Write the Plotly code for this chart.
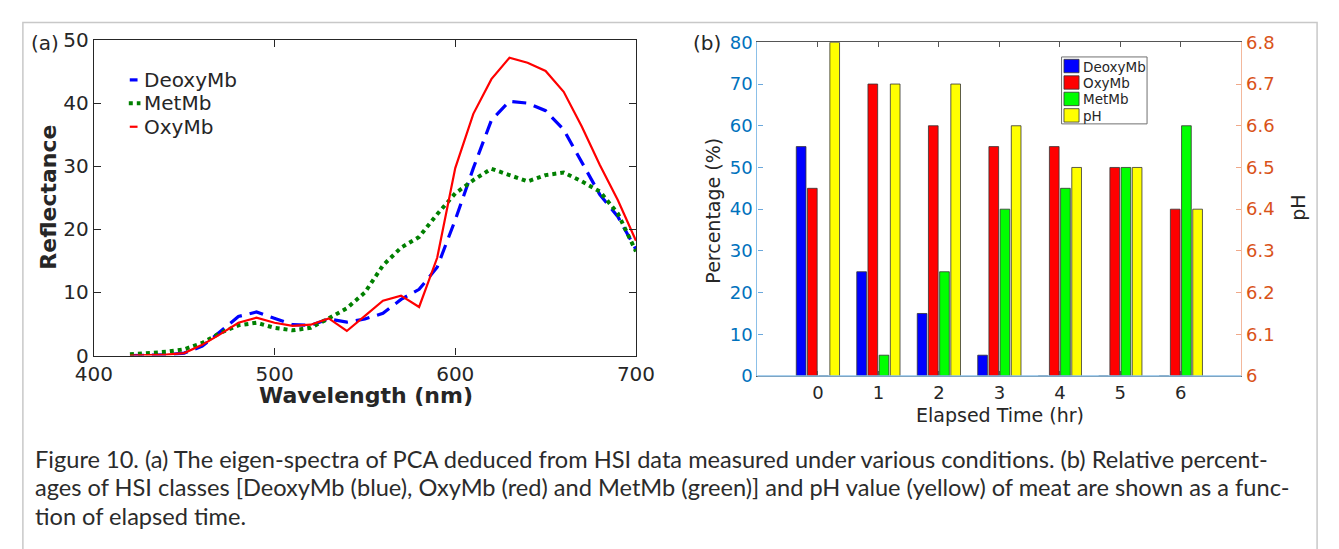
import plotly.graph_objects as go

W, H = 1339, 549

# ---------------- data: panel (a) ----------------
wavelength = [420, 430, 440, 450, 460, 470, 480, 490, 500, 510, 520, 530, 540, 550,
              560, 570, 580, 590, 600, 610, 620, 630, 640, 650, 660, 670, 680, 690, 700]
deoxymb = [0.0, 0.05, 0.1, 0.4, 1.5, 3.8, 6.2, 6.9, 5.9, 4.9, 4.8, 5.8, 5.3, 5.8,
           6.7, 8.9, 10.5, 14.0, 21.5, 29.7, 37.3, 40.3, 40.0, 38.8, 35.8, 30.7, 25.5, 22.0, 16.8]
metmb = [0.2, 0.4, 0.6, 1.0, 2.0, 3.6, 4.8, 5.2, 4.4, 4.0, 4.4, 5.9, 7.5, 10.0,
         14.3, 17.1, 18.8, 22.4, 25.7, 27.8, 29.6, 28.6, 27.6, 28.6, 29.0, 27.6, 26.0, 22.5, 16.5]
oxymb = [0.0, 0.1, 0.15, 0.4, 1.7, 3.4, 5.2, 6.0, 5.2, 4.7, 4.9, 5.9, 3.9, 6.3,
         8.7, 9.5, 7.7, 15.5, 29.7, 38.3, 43.8, 47.2, 46.4, 45.1, 41.8, 36.3, 30.2, 24.6, 18.2]

# ---------------- data: panel (b) ----------------
elapsed = [0, 1, 2, 3, 4, 5, 6]
pct_deoxy = [55, 25, 15, 5, 0, 0, 0]
pct_oxy = [45, 70, 60, 55, 55, 50, 40]
pct_met = [0, 5, 25, 40, 45, 50, 60]
ph_value = [6.8, 6.7, 6.7, 6.6, 6.5, 6.5, 6.4]

legend_a_names = ["DeoxyMb", "MetMb", "OxyMb"]
legend_b_names = ["DeoxyMb", "OxyMb", "MetMb", "pH"]

caption_lines = [
    "Figure 10. (a) The eigen-spectra of PCA deduced from HSI data measured under various conditions. (b) Relative percent-",
    "ages of HSI classes [DeoxyMb (blue), OxyMb (red) and MetMb (green)] and pH value (yellow) of meat are shown as a func-",
    "tion of elapsed time.",
]

FONT = "DejaVu Sans"
TXT = "#262626"
BLUE_AX = "#0072BD"
ORANGE_AX = "#D95319"

C_DEOXY = "#0000FF"
C_MET_LINE = "#008000"
C_OXY = "#FF0000"
C_MET_BAR = "#00FF00"
C_PH = "#FFFF00"

def px(x):
    return x / W

def py(y):
    return 1 - y / H

line_styles = {
    "DeoxyMb": dict(color=C_DEOXY, width=3.2, dash="14px,8px"),
    "MetMb": dict(color=C_MET_LINE, width=4, dash="dot"),
    "OxyMb": dict(color=C_OXY, width=2.2),
}

fig = go.Figure()

# panel (a) lines
for name, ys in [("DeoxyMb", deoxymb), ("MetMb", metmb), ("OxyMb", oxymb)]:
    fig.add_trace(go.Scatter(x=wavelength, y=ys, name=name, mode="lines",
                             line=line_styles[name], xaxis="x", yaxis="y",
                             showlegend=False))

# panel (b) bars
bw = 0.16
slot = 0.185
outline = dict(color="#333333", width=0.8)
bar_specs = [("DeoxyMb", pct_deoxy, C_DEOXY, "y2"),
             ("OxyMb", pct_oxy, C_OXY, "y2"),
             ("MetMb", pct_met, C_MET_BAR, "y2"),
             ("pH", ph_value, C_PH, "y3")]
for i, (name, vals, col, yax) in enumerate(bar_specs):
    center = (i - 1.5) * slot
    fig.add_trace(go.Bar(x=elapsed, y=vals, name=name, width=bw, offset=center - bw / 2,
                         marker=dict(color=col, line=outline), xaxis="x2", yaxis=yax,
                         showlegend=False))

a_x0, a_x1, a_yt, a_yb = 77, 635, 29.3, 359.3
b_x0, b_x1, b_yt, b_yb = 760, 1258, 31.7, 380.7

fig.update_layout(
    width=W, height=H,
    margin=dict(l=0, r=0, t=0, b=0),
    paper_bgcolor="white", plot_bgcolor="white",
    font=dict(family=FONT, color=TXT),
    barmode="overlay",
    showlegend=False,
    xaxis=dict(domain=[px(a_x0), px(a_x1)], anchor="y", range=[400, 700],
               tickvals=[400, 500, 600, 700], ticks="inside", ticklen=7,
               tickcolor="#262626", showline=True, linecolor="#262626", linewidth=1.2,
               mirror="ticks", showgrid=False, zeroline=False,
               tickfont=dict(size=20, color=TXT, family=FONT)),
    yaxis=dict(domain=[py(a_yb), py(a_yt)], anchor="x", range=[0, 50],
               tickvals=[0, 10, 20, 30, 40, 50], ticks="inside", ticklen=7,
               tickcolor="#262626", showline=True, linecolor="#262626", linewidth=1.2,
               mirror="ticks", showgrid=False, zeroline=False,
               tickfont=dict(size=20, color=TXT, family=FONT)),
    xaxis2=dict(domain=[px(b_x0), px(b_x1)], anchor="y2", range=[-1, 7],
                tickvals=elapsed, ticks="inside", ticklen=5, tickcolor="#555555",
                showline=True, linecolor="#555555", linewidth=1, mirror="ticks",
                showgrid=False, zeroline=False,
                tickfont=dict(size=18, color=TXT, family=FONT)),
    yaxis2=dict(domain=[py(b_yb), py(b_yt)], anchor="x2", range=[0, 80],
                tickvals=[0, 10, 20, 30, 40, 50, 60, 70, 80], ticks="inside", ticklen=5,
                tickcolor="#6aa8dc", showline=True, linecolor="#8cc0e8", linewidth=1.2,
                showgrid=False, zeroline=False,
                tickfont=dict(size=18, color=BLUE_AX, family=FONT)),
    yaxis3=dict(domain=[py(b_yb), py(b_yt)], anchor="x2", overlaying="y2", side="right",
                range=[6, 6.8], tickvals=[6, 6.1, 6.2, 6.3, 6.4, 6.5, 6.6, 6.7, 6.8],
                ticktext=["6", "6.1", "6.2", "6.3", "6.4", "6.5", "6.6", "6.7", "6.8"],
                ticks="inside", ticklen=5, tickcolor="#f0a888", showline=True,
                linecolor="#f3b89c", linewidth=1.2, showgrid=False, zeroline=False,
                tickfont=dict(size=18, color=ORANGE_AX, family=FONT)),
)

annotations = [
    dict(text="(a)", x=px(10), y=py(32), xanchor="left", yanchor="middle",
         font=dict(size=20, color=TXT, family=FONT)),
    dict(text="(b)", x=px(692), y=py(32), xanchor="left", yanchor="middle",
         font=dict(size=20, color=TXT, family=FONT)),
    dict(text="<b>Reflectance</b>", x=px(30), y=py(194), textangle=-90,
         xanchor="center", yanchor="middle", font=dict(size=22, color=TXT, family=FONT)),
    dict(text="<b>Wavelength (nm)</b>", x=px(357), y=py(401),
         xanchor="center", yanchor="middle", font=dict(size=22, color=TXT, family=FONT)),
    dict(text="Percentage (%)", x=px(714), y=py(208), textangle=-90,
         xanchor="center", yanchor="middle", font=dict(size=19, color=TXT, family=FONT)),
    dict(text="Elapsed Time (hr)", x=px(1010), y=py(421),
         xanchor="center", yanchor="middle", font=dict(size=19, color=TXT, family=FONT)),
    dict(text="pH", x=px(1316), y=py(205), textangle=-90,
         xanchor="center", yanchor="middle", font=dict(size=19, color=TXT, family=FONT)),
]

shapes = [
    # figure frame
    dict(type="rect", xref="paper", yref="paper", x0=px(4), x1=px(1336),
         y0=-0.05, y1=py(11), line=dict(color="#c8c8c8", width=1.5), layer="below"),
    # bottom axis line of panel (b) in light blue
    dict(type="line", xref="x2 domain", yref="y2 domain", x0=0, x1=1, y0=0, y1=0,
         line=dict(color="#8cc0e8", width=1.5), layer="above"),
]

# legend of panel (a): short line samples + labels
for i, name in enumerate(legend_a_names):
    yc = 71 + 24.5 * i
    st = dict(line_styles[name])
    st["dash"] = "solid" if name != "MetMb" else "dot"
    x0, x1 = (114, 122) if name != "MetMb" else (113, 125)
    shapes.append(dict(type="line", xref="paper", yref="paper", x0=px(x0), x1=px(x1),
                       y0=py(yc), y1=py(yc), line=st))
    annotations.append(dict(text=name, x=px(127), y=py(yc), xanchor="left",
                            yanchor="middle", font=dict(size=20, color=TXT, family=FONT)))

# legend of panel (b): box with coloured squares
shapes.append(dict(type="rect", xref="paper", yref="paper", x0=px(1073), x1=px(1161),
                   y0=py(117), y1=py(47), fillcolor="white",
                   line=dict(color="#707070", width=1), layer="above"))
b_cols = {"DeoxyMb": C_DEOXY, "OxyMb": C_OXY, "MetMb": C_MET_BAR, "pH": C_PH}
for i, name in enumerate(legend_b_names):
    top = 49.5 + 17.2 * i
    shapes.append(dict(type="rect", xref="paper", yref="paper", x0=px(1075.5), x1=px(1091),
                       y0=py(top + 14), y1=py(top), fillcolor=b_cols[name],
                       line=dict(color="#333333", width=0.8), layer="above"))
    annotations.append(dict(text=name, x=px(1093), y=py(top + 7.5), xanchor="left",
                            yanchor="middle", font=dict(size=13.5, color=TXT, family=FONT)))

for i, line in enumerate(caption_lines):
    annotations.append(dict(text=line, x=px(14), y=py(467 + 30 * i), xanchor="left",
                            yanchor="middle",
                            font=dict(size=23.6, color="#2b2b2b", family="Lato")))
for a in annotations:
    a.update(xref="paper", yref="paper", showarrow=False)

fig.update_layout(annotations=annotations, shapes=shapes)

fig.write_html("out.html")
